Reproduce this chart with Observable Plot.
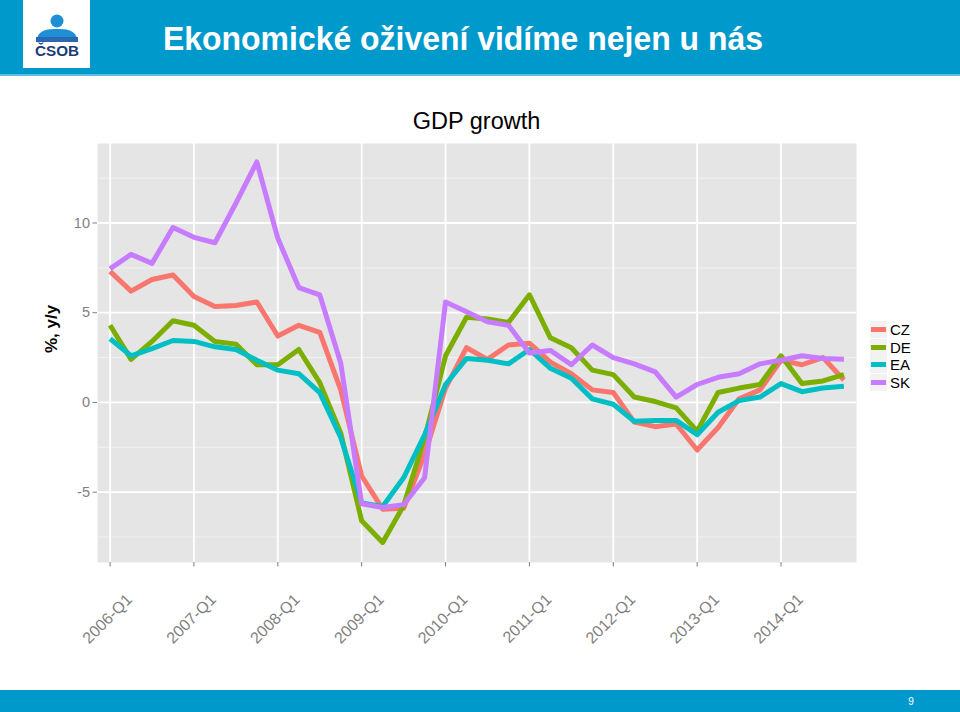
<!DOCTYPE html>
<html>
<head>
<meta charset="utf-8">
<script src="https://cdn.jsdelivr.net/npm/d3@7"></script>
<script src="https://cdn.jsdelivr.net/npm/@observablehq/plot@0.6"></script>
<style>
  body { margin: 0; background: #fff; font-family: "Liberation Sans", Arial, sans-serif; }
  #page { position: relative; width: 960px; height: 712px; overflow: hidden; background: #fff; }
  #hdr, #ftr { position: absolute; left: 0; }
  #hdr { top: 0; }
  #ftr { top: 690px; }
  #chart { position: absolute; left: 0; top: 100px; }
  #ctitle { position: absolute; left: 0; top: 108px; width: 953px; text-align: center; font-size: 23.5px; color: #000; }
  #legend { position: absolute; left: 870px; top: 321px; }
  .lrow { position: relative; height: 17.5px; }
  .lkey { position: absolute; left: 0; top: 0; width: 17px; height: 17px; background: #F2F2F2; }
  .lkey span { position: absolute; left: 1px; top: 6px; width: 15px; height: 5px; }
  .llab { position: absolute; left: 20px; top: 0; font-size: 15px; line-height: 17px; color: #000; }
</style>
</head>
<body>
<div id="page">
  <svg id="hdr" width="960" height="80">
    <rect x="0" y="0" width="960" height="74" fill="#0099CC"></rect>
    <rect x="0" y="74" width="960" height="2" fill="#5EBDE3"></rect>
    <rect x="23" y="0" width="67" height="68" fill="#ffffff"></rect>
    <circle cx="57" cy="21" r="6.5" fill="#1E8FD5"></circle>
    <path d="M37 38 Q40 28 57 29 Q74 28 77 38 Z" fill="#1E8FD5"></path>
    <rect x="36" y="37" width="42" height="5" fill="#2C67B1"></rect>
    <text x="57" y="56" text-anchor="middle" font-size="14" font-weight="bold" fill="#1B3A78" textLength="44" lengthAdjust="spacingAndGlyphs">ČSOB</text>
    <text x="163" y="50" font-size="33" font-weight="bold" fill="#ffffff" textLength="600" lengthAdjust="spacingAndGlyphs">Ekonomické oživení vidíme nejen u nás</text>
  </svg>
  <div id="ctitle">GDP growth</div>
  <div id="chart"></div>
  <div id="legend"></div>
  <svg id="ftr" width="960" height="22">
    <rect x="0" y="0" width="960" height="22" fill="#0099CC"></rect>
    <text x="911" y="15" font-size="10" fill="#ffffff" text-anchor="middle">9</text>
  </svg>
</div>
<script>
const quarters = [
  "2006-Q1","2006-Q2","2006-Q3","2006-Q4",
  "2007-Q1","2007-Q2","2007-Q3","2007-Q4",
  "2008-Q1","2008-Q2","2008-Q3","2008-Q4",
  "2009-Q1","2009-Q2","2009-Q3","2009-Q4",
  "2010-Q1","2010-Q2","2010-Q3","2010-Q4",
  "2011-Q1","2011-Q2","2011-Q3","2011-Q4",
  "2012-Q1","2012-Q2","2012-Q3","2012-Q4",
  "2013-Q1","2013-Q2","2013-Q3","2013-Q4",
  "2014-Q1","2014-Q2","2014-Q3","2014-Q4"
];
const xTickLabels = ["2006-Q1","2007-Q1","2008-Q1","2009-Q1","2010-Q1","2011-Q1","2012-Q1","2013-Q1","2014-Q1"];
const yTicks = [-5, 0, 5, 10];
const yMinorTicks = [-7.5, -2.5, 2.5, 7.5, 12.5];
const series = ["CZ", "DE", "EA", "SK"];
const seriesColors = ["#F8766D", "#7CAE00", "#00BFC4", "#C77CFF"];

const CZ = [7.3, 6.2, 6.85, 7.1, 5.9, 5.35, 5.4, 5.6, 3.7, 4.3, 3.9, 0.7,
            -4.1, -5.95, -5.9, -2.9, 0.8, 3.05, 2.4, 3.2, 3.3, 2.25, 1.6, 0.7,
            0.55, -1.1, -1.35, -1.2, -2.65, -1.4, 0.2, 0.7, 2.35, 2.1, 2.5, 1.25];
const DE = [4.3, 2.4, 3.4, 4.55, 4.3, 3.4, 3.25, 2.1, 2.1, 2.95, 1.1, -1.7,
            -6.6, -7.8, -5.75, -2.0, 2.6, 4.75, 4.65, 4.45, 6.0, 3.6, 3.05, 1.8,
            1.55, 0.3, 0.05, -0.3, -1.6, 0.55, 0.8, 1.0, 2.6, 1.05, 1.2, 1.55];
const EA = [3.55, 2.6, 3.0, 3.45, 3.4, 3.1, 2.95, 2.35, 1.8, 1.6, 0.55, -1.95,
            -5.6, -5.8, -4.2, -1.8, 1.0, 2.45, 2.35, 2.15, 2.95, 1.9, 1.35, 0.2,
            -0.1, -1.05, -1.0, -1.0, -1.8, -0.55, 0.1, 0.3, 1.05, 0.6, 0.8, 0.9];
const SK = [7.45, 8.25, 7.75, 9.75, 9.2, 8.9, 11.1, 13.4, 9.15, 6.4, 6.0, 2.2,
            -5.65, -5.85, -5.7, -4.2, 5.6, 5.05, 4.5, 4.3, 2.75, 2.9, 2.1, 3.2,
            2.5, 2.15, 1.7, 0.3, 1.0, 1.4, 1.6, 2.15, 2.35, 2.6, 2.45, 2.4];

const seriesValues = {CZ, DE, EA, SK};
const data = series.flatMap(s => quarters.map((q, i) => ({s, q, v: seriesValues[s][i]})));

const chart = Plot.plot({
  width: 960,
  height: 580,
  marginTop: 43,
  marginBottom: 118,
  marginLeft: 97,
  marginRight: 104,
  style: {fontFamily: "Liberation Sans, Arial, sans-serif", background: "transparent", overflow: "visible"},
  x: {type: "point", domain: quarters, padding: 0.6, align: 0.5},
  y: {domain: [-8.92, 14.43]},
  color: {domain: series, range: seriesColors},
  marks: [
    Plot.frame({fill: "#E5E5E5", stroke: null}),
    Plot.ruleY(yMinorTicks, {stroke: "#F2F2F2", strokeWidth: 1}),
    Plot.ruleY(yTicks, {stroke: "#FFFFFF", strokeWidth: 1.8}),
    Plot.ruleX(xTickLabels, {stroke: "#FFFFFF", strokeWidth: 1.8}),
    Plot.lineY(data, {x: "q", y: "v", z: "s", stroke: "s", strokeWidth: 5, strokeLinejoin: "round", strokeLinecap: "butt"}),
    Plot.axisY({ticks: yTicks, tickSize: 4.5, tickPadding: 3, fontSize: 14.5, color: "#7F7F7F", tickFormat: d => String(d), label: null}),
    Plot.axisX({ticks: xTickLabels, tickSize: 4.5, color: "#7F7F7F", tickFormat: () => "", label: null}),
    Plot.text(xTickLabels, {x: d => d, frameAnchor: "bottom", rotate: -45, textAnchor: "end", lineAnchor: "top", dx: 15, dy: 30, fontSize: 16, fill: "#7F7F7F"}),
    Plot.text(["%, y/y"], {frameAnchor: "left", rotate: -90, dx: -46, fontSize: 17, fontWeight: "bold", fill: "#000"})
  ]
});
document.getElementById("chart").appendChild(chart);

const legend = document.getElementById("legend");
series.forEach((s, i) => {
  const row = document.createElement("div");
  row.className = "lrow";
  row.innerHTML = `<div class="lkey"><span style="background:${seriesColors[i]}"></span></div><div class="llab">${s}</div>`;
  legend.appendChild(row);
});
</script>
</body>
</html>
